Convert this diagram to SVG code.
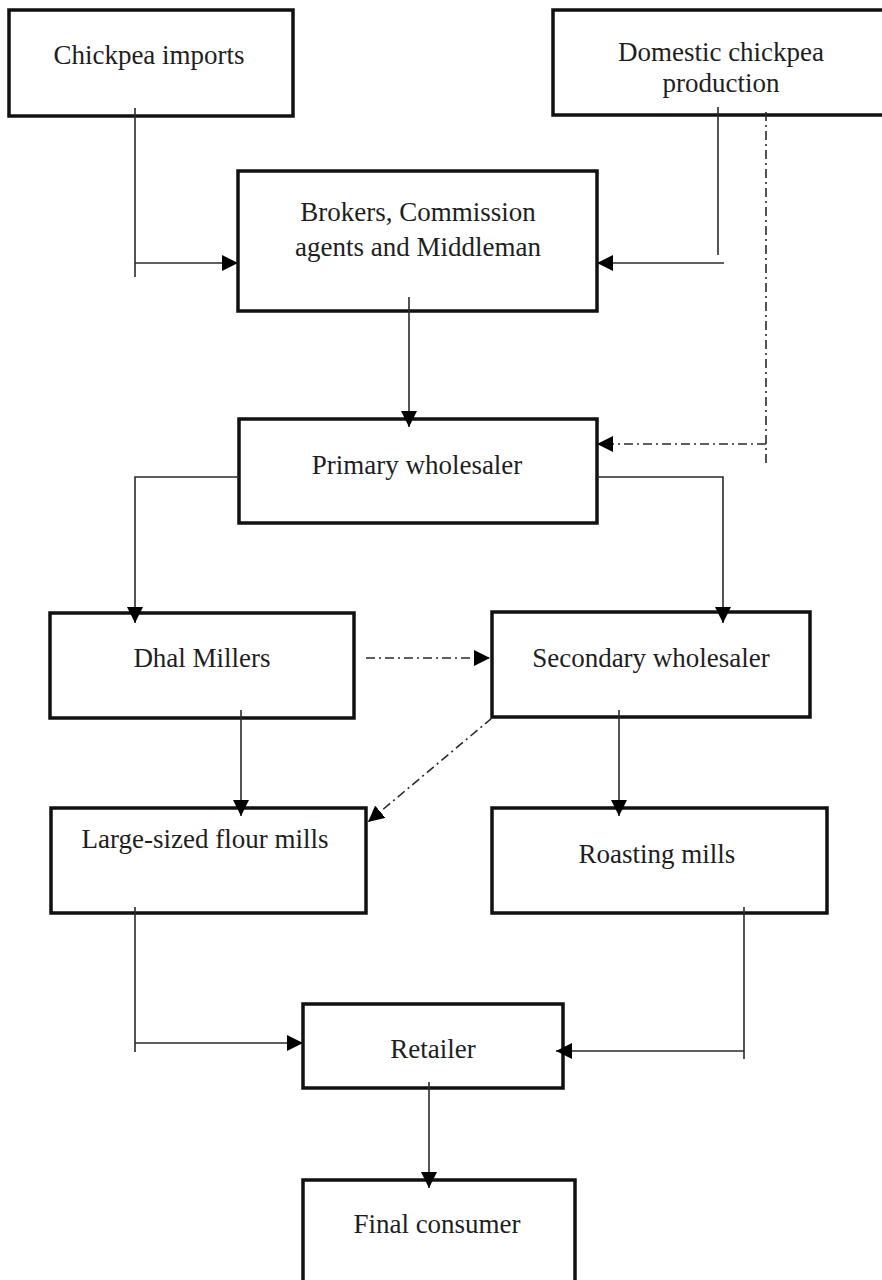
<svg xmlns="http://www.w3.org/2000/svg" width="882" height="1280" viewBox="0 0 882 1280">
<defs>
<style>
.box{fill:#fff;stroke:#111;stroke-width:3.5}
.lbl{font-family:"Liberation Serif","Times New Roman",serif;font-size:27px;fill:#1e1e1e;text-anchor:middle}
.c{fill:none;stroke:#2a2a2a;stroke-width:1.6}
.dd{fill:none;stroke:#2a2a2a;stroke-width:1.6;stroke-dasharray:9 4 2 4}
</style>
<marker id="ah" markerUnits="userSpaceOnUse" markerWidth="16" markerHeight="16" viewBox="0 0 16 16" refX="16" refY="8" orient="auto">
<path d="M0,0 L16,8 L0,16 z" fill="#000"/>
</marker>
</defs>
<rect width="882" height="1280" fill="#fff"/>

<g id="imports"><rect class="box" x="9" y="10" width="284" height="106"/><text class="lbl" x="149" y="64">Chickpea imports</text></g>
<g id="domestic"><rect class="box" x="553" y="10" width="340" height="105"/><text class="lbl" x="721" y="61">Domestic chickpea</text><text class="lbl" x="721" y="92">production</text></g>
<g id="brokers"><rect class="box" x="238" y="171" width="359" height="140"/><text class="lbl" x="418" y="221">Brokers, Commission</text><text class="lbl" x="418" y="256">agents and Middleman</text></g>
<g id="primary"><rect class="box" x="239" y="419" width="358" height="104"/><text class="lbl" x="417" y="474">Primary wholesaler</text></g>
<g id="dhal"><rect class="box" x="50" y="613" width="304" height="105"/><text class="lbl" x="202" y="667">Dhal Millers</text></g>
<g id="secondary"><rect class="box" x="492" y="612" width="318" height="105"/><text class="lbl" x="651" y="667">Secondary wholesaler</text></g>
<g id="flour"><rect class="box" x="51" y="808" width="315" height="105"/><text class="lbl" x="205" y="848">Large-sized flour mills</text></g>
<g id="roasting"><rect class="box" x="492" y="808" width="335" height="105"/><text class="lbl" x="657" y="863">Roasting mills</text></g>
<g id="retailer"><rect class="box" x="303" y="1004" width="260" height="84"/><text class="lbl" x="433" y="1058">Retailer</text></g>
<g id="consumer"><rect class="box" x="303" y="1180" width="272" height="120"/><text class="lbl" x="437" y="1233">Final consumer</text></g>

<g id="connectors">
<line class="c" x1="135" y1="108" x2="135" y2="277"/>
<line class="c" x1="135" y1="263" x2="238" y2="263" marker-end="url(#ah)"/>
<line class="c" x1="718" y1="107" x2="718" y2="255"/>
<line class="c" x1="724" y1="263" x2="597" y2="263" marker-end="url(#ah)"/>
<line class="dd" x1="766" y1="112" x2="766" y2="467"/>
<line class="dd" x1="766" y1="444" x2="597" y2="444" marker-end="url(#ah)"/>
<line class="c" x1="409" y1="297" x2="409" y2="427" marker-end="url(#ah)"/>
<polyline class="c" points="239,477 135,477 135,623" marker-end="url(#ah)"/>
<polyline class="c" points="597,477 723,477 723,623" marker-end="url(#ah)"/>
<line class="dd" x1="366" y1="658" x2="490" y2="658" marker-end="url(#ah)"/>
<line class="dd" x1="492" y1="718" x2="368" y2="822" marker-end="url(#ah)"/>
<line class="c" x1="241" y1="710" x2="241" y2="816" marker-end="url(#ah)"/>
<line class="c" x1="619" y1="710" x2="619" y2="816" marker-end="url(#ah)"/>
<line class="c" x1="135" y1="907" x2="135" y2="1052"/>
<line class="c" x1="135" y1="1043" x2="303" y2="1043" marker-end="url(#ah)"/>
<line class="c" x1="744" y1="907" x2="744" y2="1059"/>
<line class="c" x1="744" y1="1051" x2="556" y2="1051" marker-end="url(#ah)"/>
<line class="c" x1="429" y1="1082" x2="429" y2="1188" marker-end="url(#ah)"/>
</g>
</svg>
